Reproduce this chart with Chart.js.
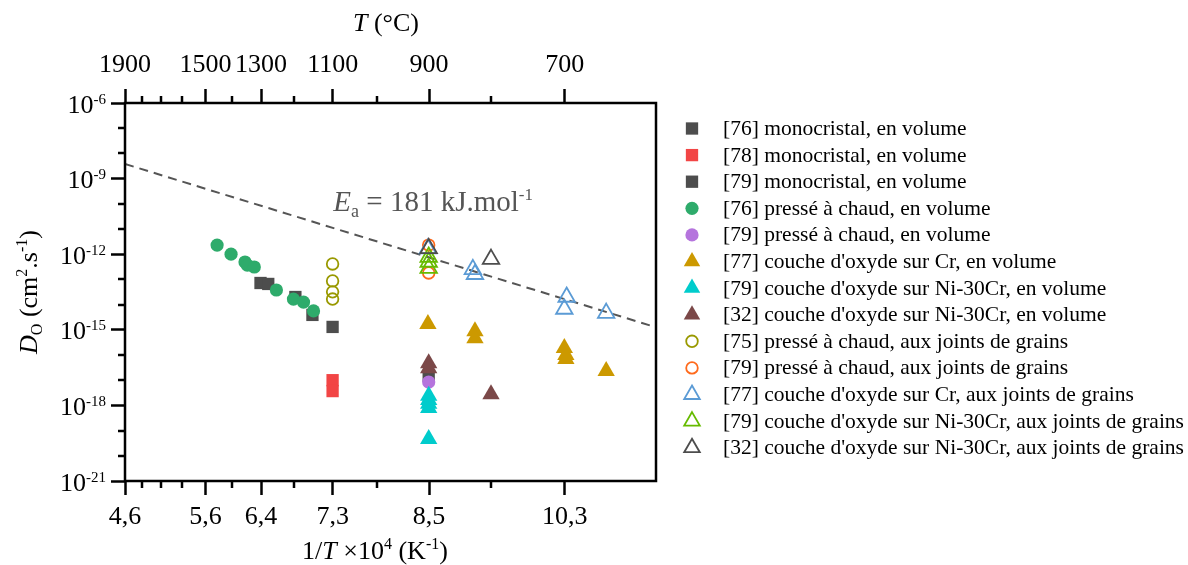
<!DOCTYPE html>
<html><head><meta charset="utf-8">
<script src="https://cdn.jsdelivr.net/npm/chart.js@4.4.1/dist/chart.umd.min.js"></script>
<style>html,body{margin:0;padding:0;background:#fff}#wrap{width:1188px;height:565px;position:relative}</style>
</head><body><div id="wrap"><canvas id="c" width="1188" height="565"></canvas></div>
<script>
const FONT = "'Liberation Serif', 'Times New Roman', serif";

// ---- data: x = 1/T x 10^4 (K^-1), y = D_O (cm^2.s^-1) ----
const mono76X = [6.35, 6.45, 6.80, 7.02, 7.28];
const mono76Y = [7.2e-14, 6.6e-14, 2.0e-14, 3.9e-15, 1.3e-15];
const mono78X = [7.28, 7.28];
const mono78Y = [1.0e-17, 3.7e-18];
const mono79X = [8.52];
const mono79Y = [1.5e-17];
const hp76X = [5.79, 5.97, 6.15, 6.18, 6.27, 6.555, 6.775, 6.905, 7.034];
const hp76Y = [2.3e-12, 1.0e-12, 4.9e-13, 3.7e-13, 3.1e-13, 3.8e-14, 1.66e-14, 1.26e-14, 5.6e-15];
const hp79X = [8.52];
const hp79Y = [8.5e-18];
const oxCr77X = [8.51, 9.117, 9.117, 10.27, 10.29, 10.29, 10.81];
const oxCr77Y = [1.7e-15, 8.8e-16, 4.6e-16, 1.9e-16, 1.0e-16, 6.9e-17, 2.3e-17];
const oxNi79X = [8.52, 8.52, 8.52, 8.52, 8.52];
const oxNi79Y = [2.4e-18, 1.65e-18, 1.15e-18, 7.9e-19, 4.6e-20];
const oxNi32X = [8.52, 8.52, 9.324];
const oxNi32Y = [4.7e-17, 3.0e-17, 2.8e-18];
const gbHp75X = [7.28, 7.28, 7.28, 7.28];
const gbHp75Y = [4.1e-13, 8.7e-14, 3.2e-14, 1.66e-14];
const gbHp79X = [8.52, 8.52];
const gbHp79Y = [2.3e-12, 1.8e-13];
const gbCr77X = [8.51, 9.09, 9.117, 10.30, 10.27, 10.81];
const gbCr77Y = [1.65e-12, 2.5e-13, 1.6e-13, 2.0e-14, 6.7e-15, 4.6e-15];
const gbNi79X = [8.52, 8.52, 8.52];
const gbNi79Y = [7.7e-13, 4.9e-13, 2.8e-13];
const gbNi32X = [8.52, 9.324];
const gbNi32Y = [1.7e-12, 6.4e-13];
// dashed Arrhenius line (Ea = 181 kJ/mol), endpoints
const lineX = [4.602, 11.38];
const lineY = [3.8e-9, 1.48e-15];
const eaLabelX = 7.29, eaLabelY = 5.3e-11;

// ---- ticks ----
const tickTemps = [1900, 1800, 1700, 1600, 1500, 1400, 1300, 1200, 1100, 1000, 900, 800, 700];
const topTickLabels = ['1900', '', '', '', '1500', '', '1300', '', '1100', '', '900', '', '700'];
const bottomTickLabels = ['4,6', '', '', '', '5,6', '', '6,4', '', '7,3', '', '8,5', '', '10,3'];
const yTickExps = [-21, -20, -19, -18, -17, -16, -15, -14, -13, -12, -11, -10, -9, -8, -7, -6];

const invT = t => 1e4 / (t + 273.15);
const xMin = invT(1900), xMax = invT(600);

const series = [
  ['[76] monocristal, en volume', mono76X, mono76Y, 'rect', '#4d4d4d', true],
  ['[78] monocristal, en volume', mono78X, mono78Y, 'rect', '#f24545', true],
  ['[79] monocristal, en volume', mono79X, mono79Y, 'rect', '#4d4d4d', true],
  ['[76] pressé à chaud, en volume', hp76X, hp76Y, 'circle', '#2eab6b', true],
  ['[79] pressé à chaud, en volume', hp79X, hp79Y, 'circle', '#b574dd', true],
  ["[77] couche d'oxyde sur Cr, en volume", oxCr77X, oxCr77Y, 'triangle', '#cc9900', true],
  ["[79] couche d'oxyde sur Ni-30Cr, en volume", oxNi79X, oxNi79Y, 'triangle', '#00cccc', true],
  ["[32] couche d'oxyde sur Ni-30Cr, en volume", oxNi32X, oxNi32Y, 'triangle', '#7b4848', true],
  ['[75] pressé à chaud, aux joints de grains', gbHp75X, gbHp75Y, 'circle', '#999900', false],
  ['[79] pressé à chaud, aux joints de grains', gbHp79X, gbHp79Y, 'circle', '#ff6a1c', false],
  ["[77] couche d'oxyde sur Cr, aux joints de grains", gbCr77X, gbCr77Y, 'triangle', '#5b9bd5', false],
  ["[79] couche d'oxyde sur Ni-30Cr, aux joints de grains", gbNi79X, gbNi79Y, 'triangle', '#66bb00', false],
  ["[32] couche d'oxyde sur Ni-30Cr, aux joints de grains", gbNi32X, gbNi32Y, 'triangle', '#4d4d4d', false]
];
const radiusFor = (style, filled) => style === 'rect' ? 8.7 : style === 'circle' ? (filled ? 6.6 : 5.8) : (filled ? 10 : 9.5);

const datasets = series.map((s, i) => ({
  label: s[0],
  data: s[1].map((x, k) => ({x, y: s[2][k]})),
  pointStyle: s[3],
  pointRadius: radiusFor(s[3], s[5]),
  pointHoverRadius: radiusFor(s[3], s[5]),
  backgroundColor: s[5] ? s[4] : 'rgba(0,0,0,0)',
  borderColor: s[4],
  pointBorderWidth: s[5] ? 0 : 1.8,
  showLine: false,
  order: -i,
  _filled: s[5]
}));
datasets.push({
  label: '_line', type: 'line',
  data: lineX.map((x, k) => ({x, y: lineY[k]})),
  borderColor: '#555', borderWidth: 2, borderDash: [9, 6], pointRadius: 0, fill: false, order: 100
});

function rich(ctx, parts, x, y, align) {
  let total = 0;
  parts.forEach(p => { ctx.font = (p.it ? 'italic ' : '') + p.s + 'px ' + FONT; p.w = ctx.measureText(p.t).width; total += p.w; });
  let cx = align === 'center' ? x - total / 2 : align === 'right' ? x - total : x;
  ctx.textAlign = 'left'; ctx.textBaseline = 'alphabetic';
  parts.forEach(p => { ctx.font = (p.it ? 'italic ' : '') + p.s + 'px ' + FONT; ctx.fillText(p.t, cx, y + (p.dy || 0)); cx += p.w; });
}

function marker(ctx, style, x, y, r, color, filled) {
  ctx.save();
  ctx.beginPath();
  if (style === 'rect') { const h = r * Math.SQRT1_2; ctx.rect(x - h, y - h, 2 * h, 2 * h); }
  else if (style === 'circle') { ctx.arc(x, y, r, 0, Math.PI * 2); }
  else { let a = 0; for (let k = 0; k < 3; k++) { const px = x + Math.sin(a) * r, py = y - Math.cos(a) * r; k ? ctx.lineTo(px, py) : ctx.moveTo(px, py); a += 2 * Math.PI / 3; } ctx.closePath(); }
  if (filled) { ctx.fillStyle = color; ctx.fill(); } else { ctx.strokeStyle = color; ctx.lineWidth = 1.8; ctx.stroke(); }
  ctx.restore();
}

const deco = {
  id: 'deco',
  afterDraw(chart) {
    const ctx = chart.ctx, a = chart.chartArea, sx = chart.scales.x, sy = chart.scales.y;
    ctx.save();
    // frame
    ctx.strokeStyle = '#000'; ctx.lineWidth = 2.5;
    ctx.strokeRect(a.left, a.top, a.right - a.left, a.bottom - a.top);
    // minor ticks
    ctx.lineWidth = 2.5; ctx.beginPath();
    tickTemps.forEach((t, i) => {
      if (bottomTickLabels[i]) return;
      const px = Math.round(sx.getPixelForValue(invT(t)));
      ctx.moveTo(px, a.bottom); ctx.lineTo(px, a.bottom + 7);
      ctx.moveTo(px, a.top); ctx.lineTo(px, a.top - 7);
    });
    yTickExps.forEach(e => {
      if (e % 3 === 0) return;
      const py = Math.round(sy.getPixelForValue(Math.pow(10, e)));
      ctx.moveTo(a.left, py); ctx.lineTo(a.left - 7, py);
    });
    ctx.stroke();
    // y tick labels
    ctx.fillStyle = '#000';
    yTickExps.forEach(e => {
      if (e % 3 !== 0) return;
      const py = sy.getPixelForValue(Math.pow(10, e));
      rich(ctx, [{t: '10', s: 26}, {t: String(e), s: 15, dy: -9}], 106, py + 9.5, 'right');
    });
    // axis titles
    rich(ctx, [{t: 'T', s: 26, it: true}, {t: ' (°C)', s: 26}], 386, 31, 'center');
    rich(ctx, [{t: '1/', s: 26}, {t: 'T', s: 26, it: true}, {t: ' ×10', s: 26}, {t: '4', s: 16, dy: -10}, {t: ' (K', s: 26}, {t: '-1', s: 16, dy: -10}, {t: ')', s: 26}], 375, 559, 'center');
    ctx.save(); ctx.translate(28, 292); ctx.rotate(-Math.PI / 2);
    rich(ctx, [{t: 'D', s: 26, it: true}, {t: 'O', s: 16, dy: 5}, {t: ' (cm', s: 26}, {t: '2', s: 16, dy: -10}, {t: '.s', s: 26}, {t: '-1', s: 16, dy: -10}, {t: ')', s: 26}], 0, 9, 'center');
    ctx.restore();
    // Ea annotation
    ctx.fillStyle = '#555';
    rich(ctx, [{t: 'E', s: 29, it: true}, {t: 'a', s: 18, dy: 6}, {t: ' = 181 kJ.mol', s: 29}, {t: '-1', s: 17, dy: -11}],
      sx.getPixelForValue(eaLabelX), sy.getPixelForValue(eaLabelY), 'left');
    // legend
    let ly = 128.5;
    chart.data.datasets.forEach(d => {
      if (d.label === '_line') return;
      const r = d.pointStyle === 'rect' ? 8.7 : d.pointStyle === 'circle' ? (d._filled ? 6.6 : 5.8) : (d._filled ? 9.5 : 9);
      marker(ctx, d.pointStyle, 692, ly, r, d.borderColor, d._filled);
      ctx.fillStyle = '#000'; ctx.font = '21.5px ' + FONT; ctx.textAlign = 'left'; ctx.textBaseline = 'alphabetic';
      ctx.fillText(d.label, 723, ly + 6.5);
      ly += 26.6;
    });
    ctx.restore();
  }
};

const tickFont = {family: FONT, size: 26};
new Chart(document.getElementById('c'), {
  type: 'scatter',
  data: {datasets},
  options: {
    responsive: false, animation: false, devicePixelRatio: 1,
    layout: {padding: {left: 0, top: 0, right: 532, bottom: 0}},
    plugins: {legend: {display: false}, tooltip: {enabled: false}},
    scales: {
      x: {
        type: 'linear', position: 'bottom', min: xMin, max: xMax,
        afterBuildTicks: s => { s.ticks = tickTemps.map(t => ({value: invT(t)})); },
        afterFit: s => { s.height = 84; },
        ticks: {autoSkip: false, maxRotation: 0, minRotation: 0, font: tickFont, color: '#000', padding: 7,
          callback: (v, i) => bottomTickLabels[i]},
        grid: {display: true, drawOnChartArea: false, drawTicks: true, tickLength: 14, tickWidth: 2.5,
          tickColor: c => bottomTickLabels[c.index] ? '#000' : 'rgba(0,0,0,0)'},
        border: {display: false}
      },
      xTop: {
        type: 'linear', position: 'top', min: xMin, max: xMax,
        afterBuildTicks: s => { s.ticks = tickTemps.map(t => ({value: invT(t)})); },
        afterFit: s => { s.height = 103; },
        ticks: {autoSkip: false, maxRotation: 0, minRotation: 0, font: tickFont, color: '#000', padding: 8,
          callback: (v, i) => topTickLabels[i]},
        grid: {display: true, drawOnChartArea: false, drawTicks: true, tickLength: 14, tickWidth: 2.5,
          tickColor: c => topTickLabels[c.index] ? '#000' : 'rgba(0,0,0,0)'},
        border: {display: false}
      },
      y: {
        type: 'logarithmic', position: 'left', min: 1e-21, max: 1e-6,
        afterBuildTicks: s => { s.ticks = yTickExps.map(e => ({value: Math.pow(10, e)})); },
        afterFit: s => { s.width = 125; },
        ticks: {display: false},
        grid: {display: true, drawOnChartArea: false, drawTicks: true, tickLength: 14, tickWidth: 2.5,
          tickColor: c => (yTickExps[c.index] % 3 === 0) ? '#000' : 'rgba(0,0,0,0)'},
        border: {display: false}
      }
    }
  },
  plugins: [deco]
});
</script></body></html>
